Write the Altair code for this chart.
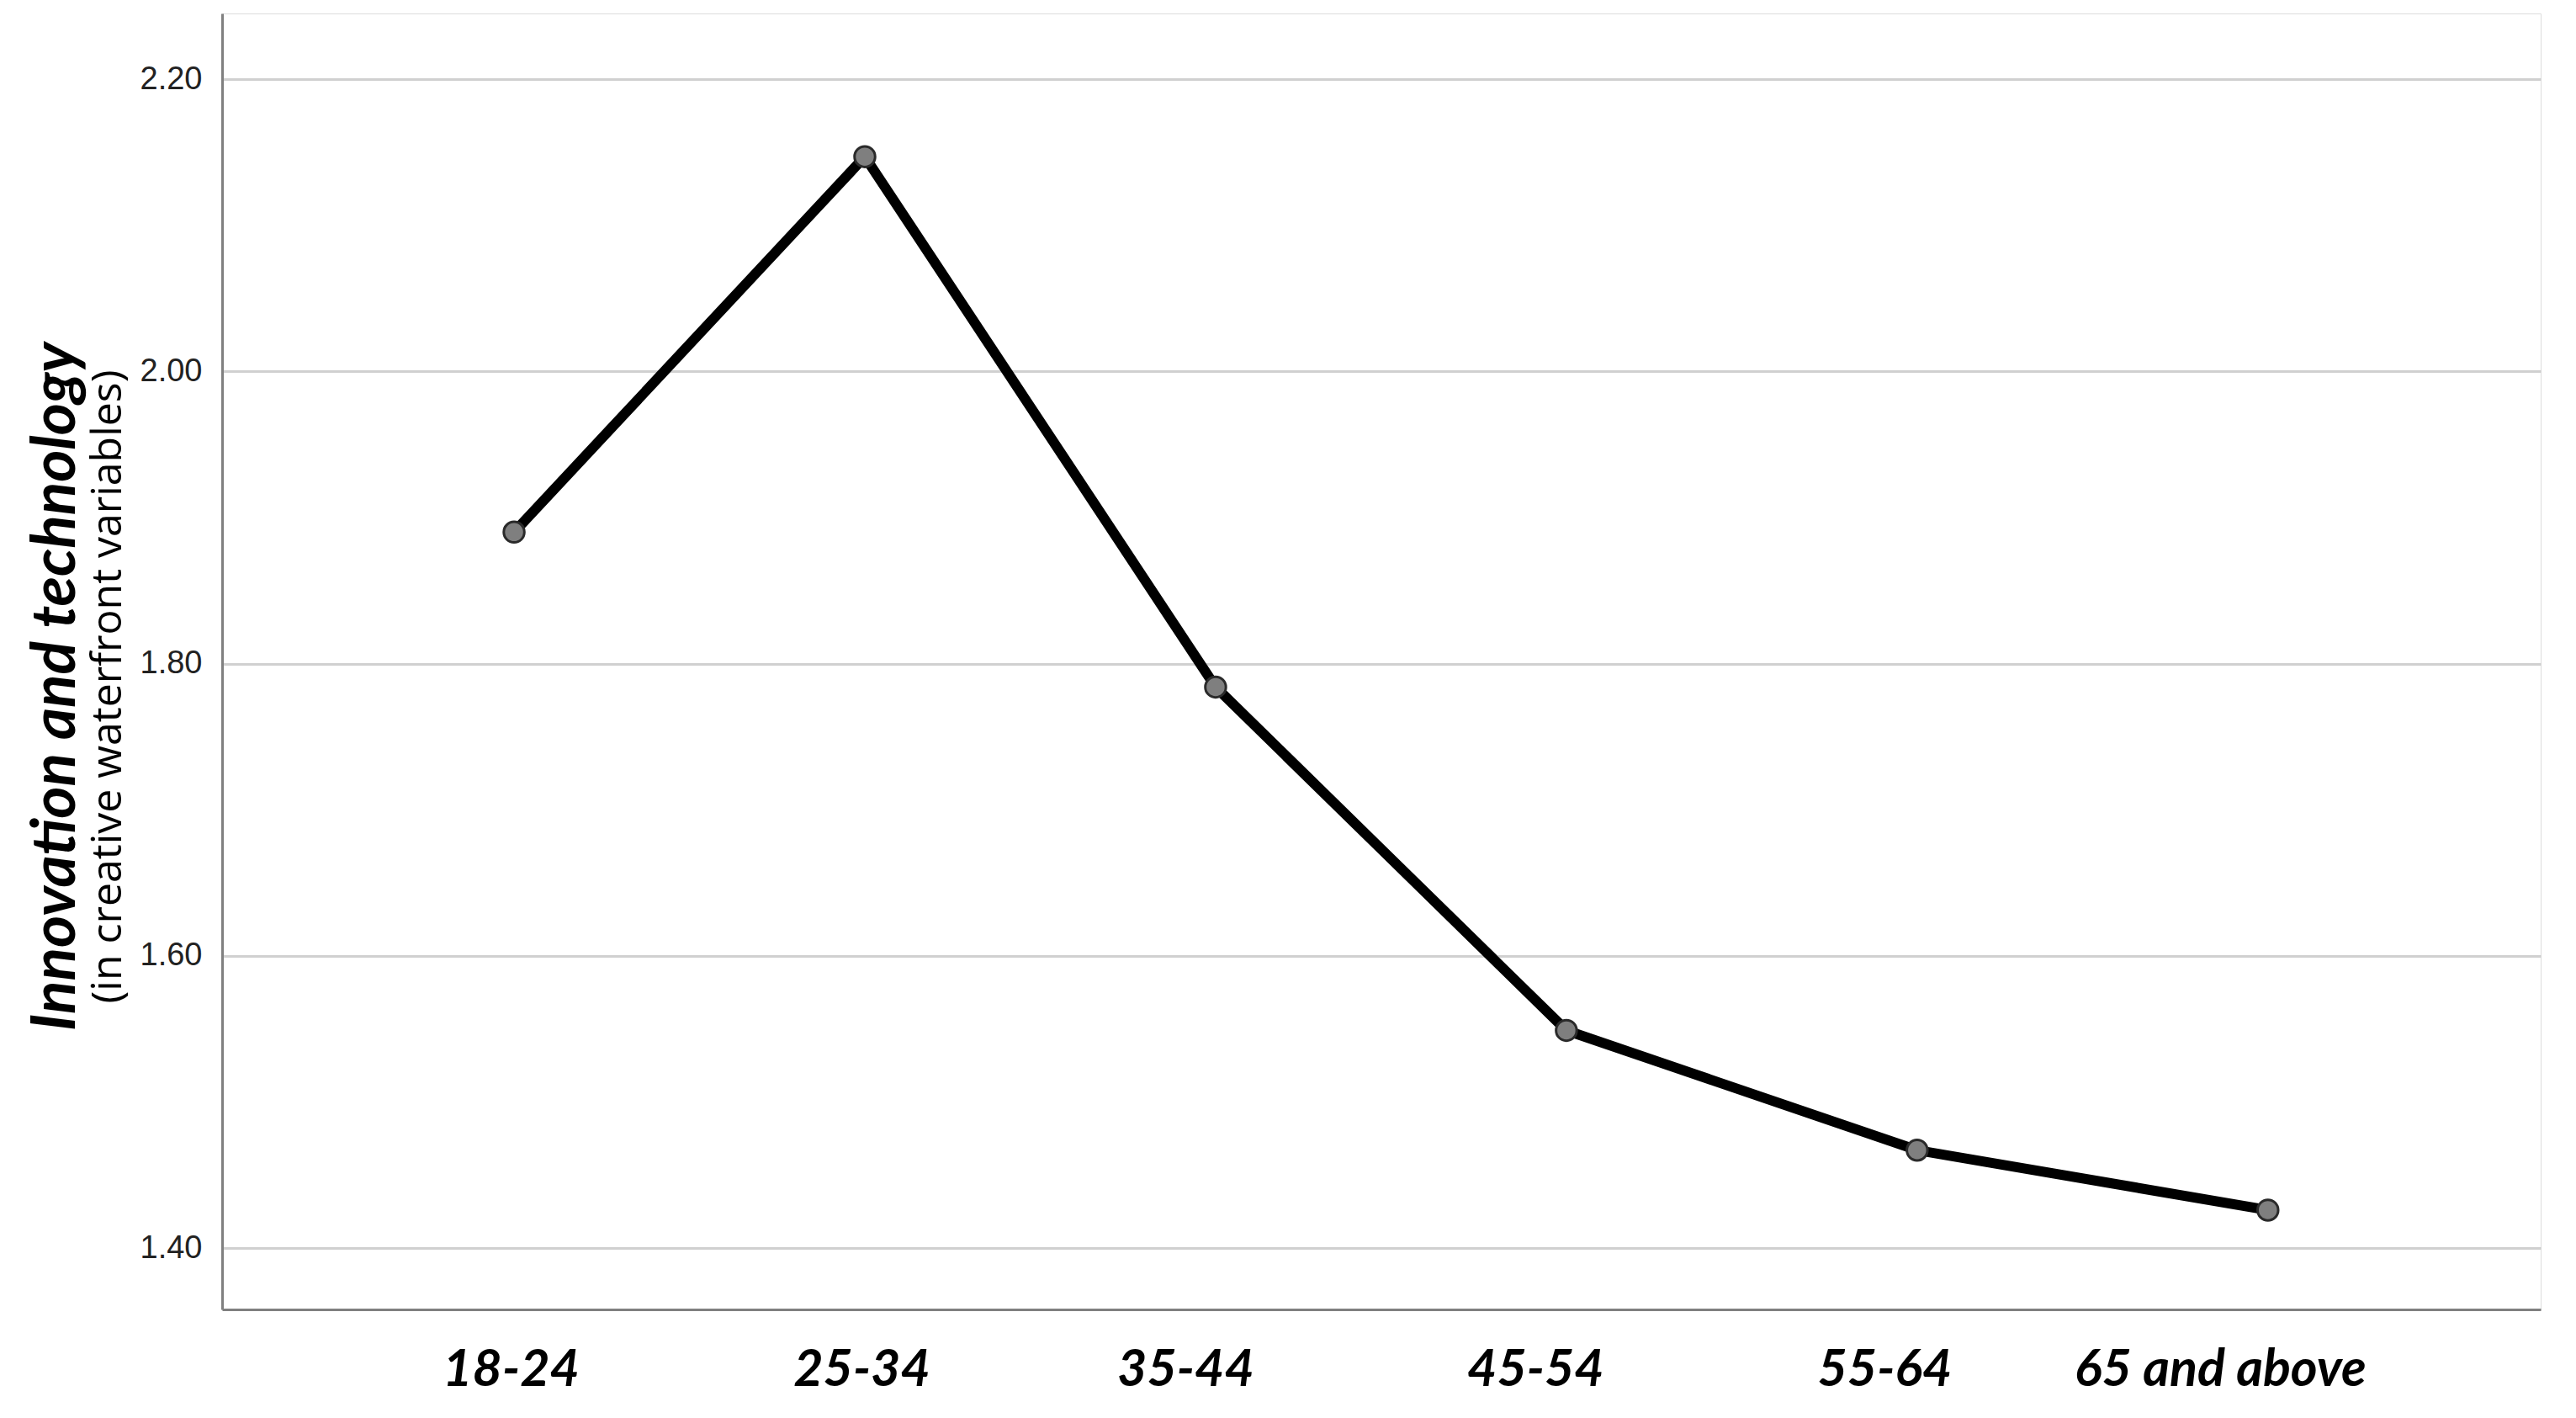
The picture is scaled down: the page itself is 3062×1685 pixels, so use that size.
import altair as alt
import pandas as pd

age_groups = ["18-24", "25-34", "35-44", "45-54", "55-64", "65 and above"]
mean_values = [1.890, 2.147, 1.784, 1.549, 1.467, 1.426]
y_ticks = [1.40, 1.60, 1.80, 2.00, 2.20]

df = pd.DataFrame({"age": age_groups, "value": mean_values})

x_enc = alt.X(
    "age:N",
    sort=age_groups,
    title=None,
    scale=alt.Scale(type="point", padding=0.805, align=0.517),
    axis=alt.Axis(
        labelFont="Lato",
        labelFontSize=61,
        labelFontWeight="bold",
        labelFontStyle="italic",
        labelColor="#000000",
        labelAngle=0,
        labelPadding=42,
        labelLimit=0,
        ticks=False,
        domainColor="#808080",
        domainWidth=3,
        grid=False,
        labelOffset={
            "condition": [
                {"test": "datum.value == '35-44'", "value": -36},
                {"test": "datum.value == '45-54'", "value": -37},
                {"test": "datum.value == '55-64'", "value": -39},
                {"test": "datum.value == '65 and above'", "value": -57},
            ],
            "value": -4,
        },
    ),
)

y_enc = alt.Y(
    "value:Q",
    title=None,
    scale=alt.Scale(domain=[1.358, 2.245], zero=False, nice=False),
    axis=alt.Axis(
        values=y_ticks,
        format=".2f",
        labelFont="Liberation Sans",
        labelFontSize=38,
        labelColor="#222222",
        labelPadding=24,
        ticks=False,
        domainColor="#808080",
        domainWidth=3,
        gridColor="#d0d0d0",
        gridWidth=3,
    ),
)

base = alt.Chart(df).encode(x=x_enc, y=y_enc)

line = base.mark_line(color="#000000", strokeWidth=12)
points = base.mark_point(
    filled=True, shape="circle", size=600, fill="#7f7f7f", stroke="#2a2a2a", strokeWidth=3, opacity=1
)

chart = alt.layer(line, points).properties(
    width=2756,
    height=1540,
    title=alt.Title(
        "Innovation and technology",
        subtitle="(in creative waterfront variables)",
        orient="left",
        anchor="middle",
        font="Lato",
        fontSize=73,
        fontWeight="bold",
        fontStyle="italic",
        color="#000000",
        subtitleFont="Open Sans",
        subtitleFontSize=50,
        subtitleColor="#000000",
        subtitlePadding=0,
        offset=12,
        dx=-30,
    ),
    autosize=alt.AutoSizeParams(type="none"),
    padding={"left": 256, "top": 8, "right": 30, "bottom": 110},
).configure_view(stroke=None).configure(background="#ffffff")

chart.save("out.html", embed_options={"renderer": "svg", "actions": False})
